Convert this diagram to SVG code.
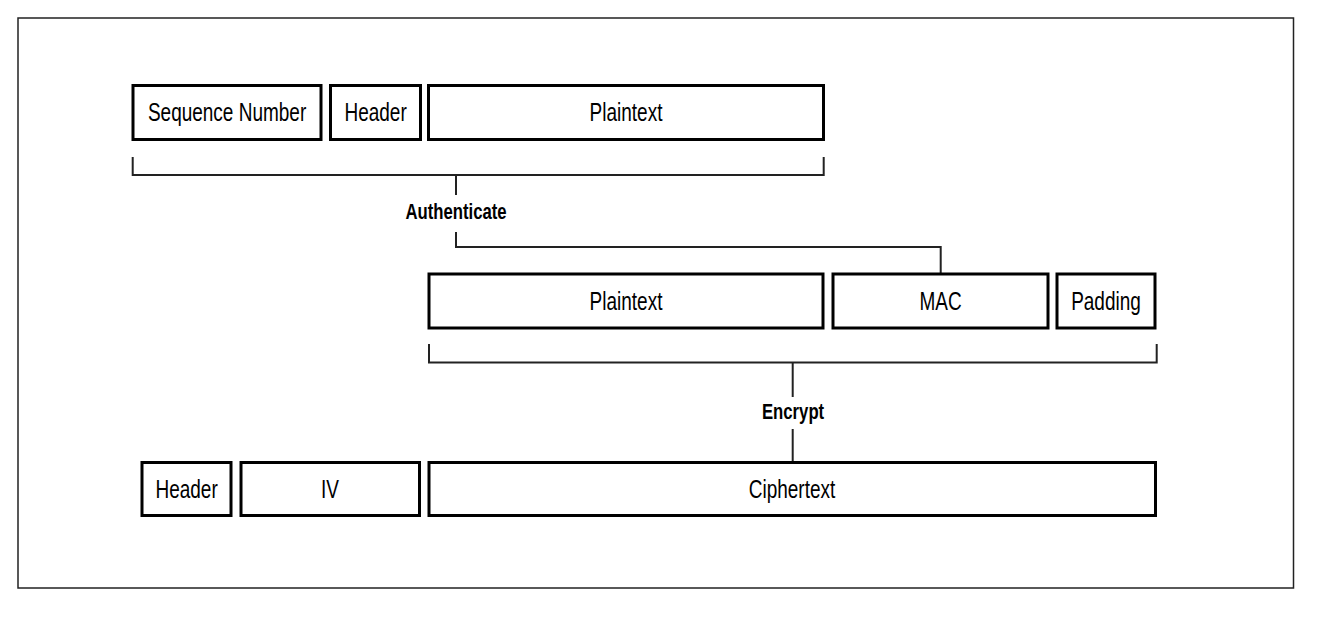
<svg xmlns="http://www.w3.org/2000/svg" width="1323" height="617" viewBox="0 0 1323 617">
<style>
.frame{fill:none;stroke:#222;stroke-width:1.5}
.box{fill:#fff;stroke:#000;stroke-width:3}
.lbl,.op{font-family:"Liberation Sans",Arial,sans-serif;fill:#000;text-anchor:middle;transform-box:fill-box;transform-origin:center;transform:scaleX(0.76)}
.lbl{font-size:25px}
.op{font-size:22px;font-weight:bold}
.conn{fill:none;stroke:#222;stroke-width:2}
</style>
<rect class="frame" x="18" y="18" width="1275.5" height="570"/>
<g id="connectors">
<path class="conn" d="M132.7 157 V175 H823.7 V157"/>
<path class="conn" d="M456 175 V195"/>
<path class="conn" d="M456 232 V247 H940.7 V273"/>
<path class="conn" d="M429 344 V362.5 H1156.7 V344"/>
<path class="conn" d="M792.7 362.5 V397"/>
<path class="conn" d="M792.7 429 V461"/>
</g>
<g id="authenticate"><text class="op" x="456" y="219">Authenticate</text></g>
<g id="encrypt"><text class="op" x="793" y="419">Encrypt</text></g>
<g id="seq-number"><rect class="box" x="133" y="85.5" width="188" height="54"/><text class="lbl" x="227" y="121.5">Sequence Number</text></g>
<g id="header1"><rect class="box" x="330.5" y="85.5" width="90" height="54"/><text class="lbl" x="375.5" y="121.5">Header</text></g>
<g id="plaintext1"><rect class="box" x="428.5" y="85.5" width="395" height="54"/><text class="lbl" x="626" y="121.5">Plaintext</text></g>
<g id="plaintext2"><rect class="box" x="429" y="274" width="394" height="54"/><text class="lbl" x="626" y="310">Plaintext</text></g>
<g id="mac"><rect class="box" x="833" y="274" width="215" height="54"/><text class="lbl" x="940.5" y="310">MAC</text></g>
<g id="padding"><rect class="box" x="1057" y="274" width="98" height="54"/><text class="lbl" x="1106" y="310">Padding</text></g>
<g id="header2"><rect class="box" x="142" y="462.5" width="89" height="53"/><text class="lbl" x="186.5" y="498">Header</text></g>
<g id="iv"><rect class="box" x="241" y="462.5" width="178.5" height="53"/><text class="lbl" x="330" y="498">IV</text></g>
<g id="ciphertext"><rect class="box" x="429" y="462.5" width="726.5" height="53"/><text class="lbl" x="792" y="498">Ciphertext</text></g>
</svg>
